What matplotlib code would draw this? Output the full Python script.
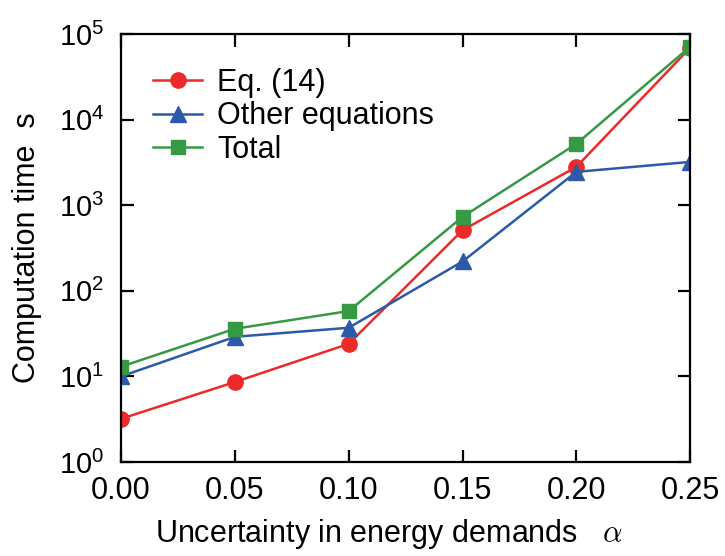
import numpy as np
import matplotlib.pyplot as plt

plt.rcParams['font.family'] = ['Liberation Sans', 'DejaVu Sans']
plt.rcParams['mathtext.fontset'] = 'cm'

# Datos
alpha = [0.00, 0.05, 0.10, 0.15, 0.20, 0.25]
eq14 = [3.2, 8.6, 24, 510, 2800, 69000]
otras = [10, 29, 37, 220, 2450, 3200]
total = [13, 36, 58, 730, 5200, 71000]

fig = plt.figure(figsize=(7.25, 5.56), dpi=100)
ax = fig.add_axes([0.167, 0.169, 0.785, 0.770])

ax.plot(alpha, eq14, '-o', color='#ec2a2a', lw=1.8, ms=11, label='Eq. (14)')
ax.plot(alpha, otras, '-^', color='#2b5ba8', lw=1.8, ms=12, label='Other equations')
ax.plot(alpha, total, '-s', color='#369944', lw=1.8, ms=10.5, label='Total')

ax.set_yscale('log')
ax.set_ylim(1, 1e5)
ax.set_xlim(0, 0.25)
ax.set_xticks(alpha)
ax.set_xticklabels(['%.2f' % a for a in alpha])
ax.minorticks_off()
ax.tick_params(direction='in', length=9, width=1.6, labelsize=22, top=True, right=True)
ax.tick_params(axis='x', pad=10)
ax.tick_params(axis='y', pad=12, labelsize=21)
for s in ax.spines.values():
    s.set_linewidth(1.6)

ax.set_xlabel('Uncertainty in energy demands   $\\alpha$', fontsize=22, labelpad=8)
ax.xaxis.label.set_x(0.47)
ax.set_ylabel('Computation time  s', fontsize=22, labelpad=12)
ax.legend(loc='upper left', frameon=False, fontsize=22, handlelength=1.6,
          bbox_to_anchor=(0.035, 0.95), borderaxespad=0, labelspacing=0.12,
          handletextpad=0.5)

fig.savefig('out.png', dpi=100)
